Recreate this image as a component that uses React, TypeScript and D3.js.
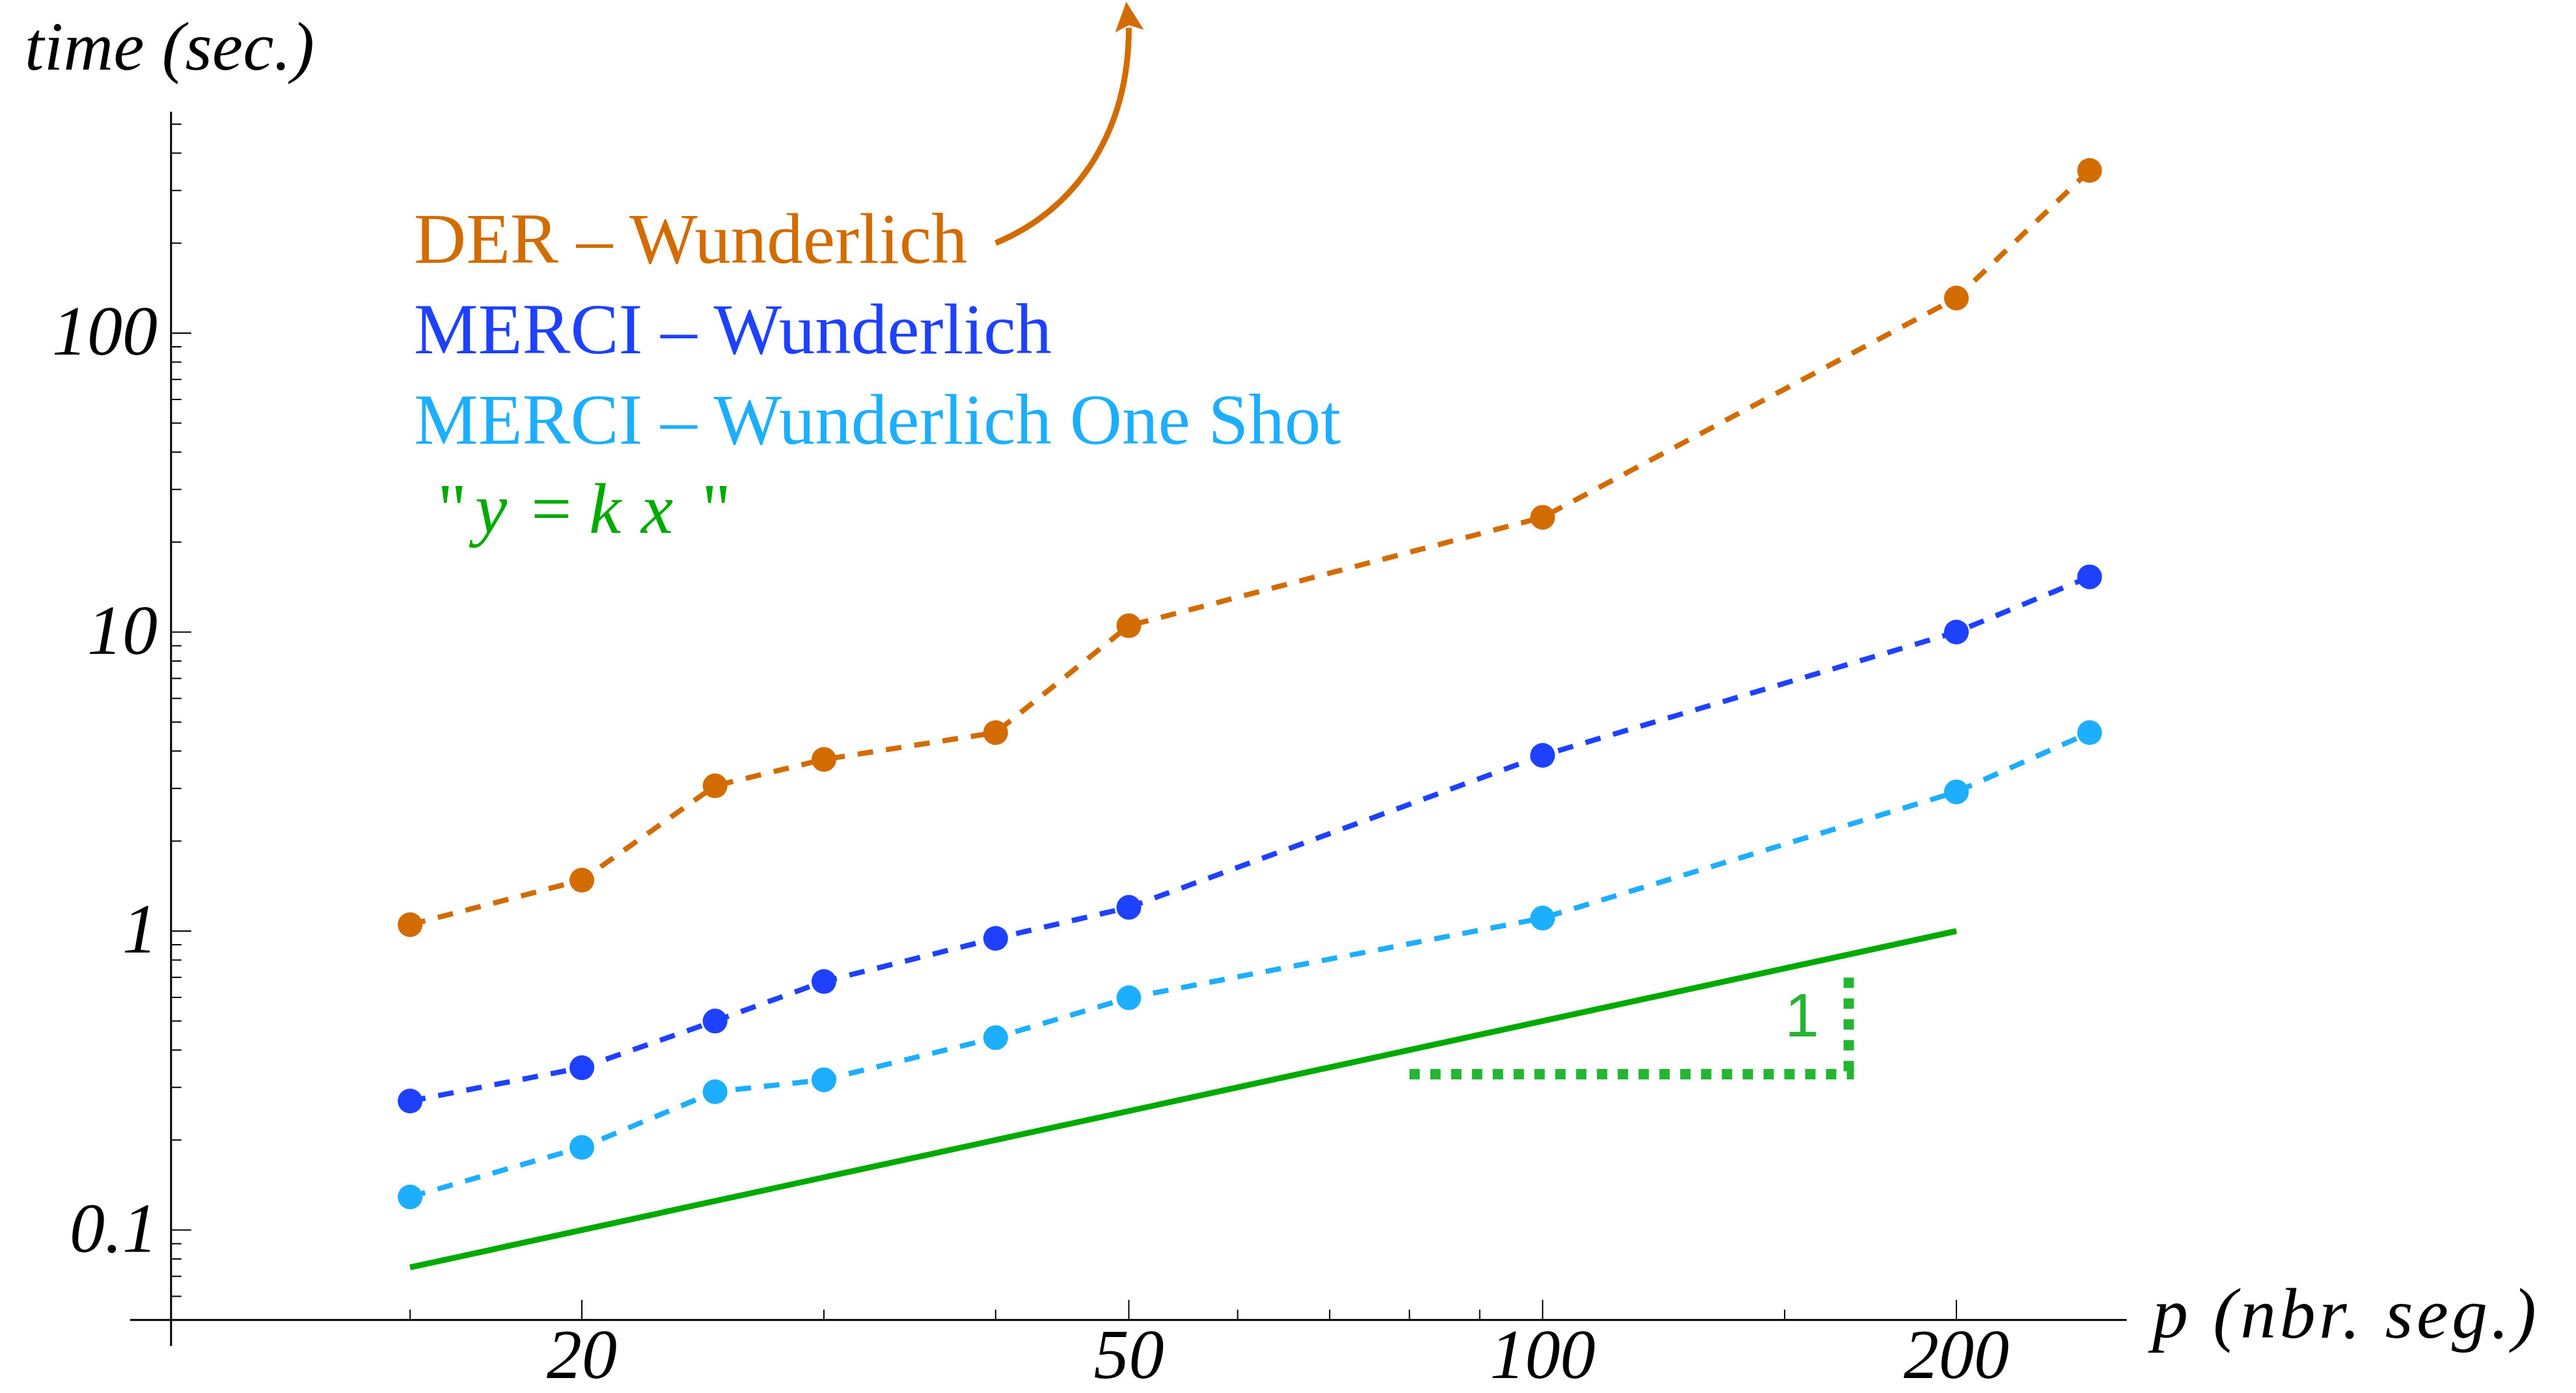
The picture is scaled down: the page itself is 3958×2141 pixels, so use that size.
import * as d3 from "d3";

// number of segments p
const pValues = [15, 20, 25, 30, 40, 50, 100, 200, 250];
// time (sec.)
const derTimes = [1.05, 1.48, 3.06, 3.75, 4.61, 10.5, 24.2, 131, 350];
const merciTimes = [0.27, 0.349, 0.5, 0.678, 0.945, 1.2, 3.87, 10, 15.3];
const oneShotTimes = [0.129, 0.189, 0.29, 0.318, 0.44, 0.598, 1.105, 2.92, 4.61];

const seriesNames = ["DER – Wunderlich", "MERCI – Wunderlich", "MERCI – Wunderlich One Shot"];
const seriesColors = ["#D26B00", "#1E40FF", "#1EAEFF"];

// reference line y = k x
const refK = 0.005;
const refP = [15, 200];

// slope triangle (data units)
const slopeP = [80, 167];
const slopeT = [0.332, 0.75];

// arrow pointing out of the plot (data units)
const arrowPts: [number, number][] = [[40, 200], [46, 262], [50, 480], [50, 1050]];

const xTickLabels = [20, 50, 100, 200];
const xMinorTicks = [15, 30, 40, 60, 70, 80, 90, 150];
const yTickLabels = [0.1, 1, 10, 100];

const serif = "'Liberation Serif', 'Times New Roman', serif";

export default function App() {
  const width = 3958;
  const height = 2141;

  const x = d3.scaleLog().domain([20, 200]).range([894, 3006]);
  const y = d3.scaleLog().domain([1, 100]).range([1431, 512]);

  const xOrigin = 10.05;
  const yOrigin = 0.05;
  const xMax = 266;
  const yMax = 550;

  const ax = x(xOrigin);
  const ay = y(yOrigin);

  const yMinor = y
    .copy()
    .domain([yOrigin, yMax])
    .ticks()
    .filter((v) => !yTickLabels.some((t) => Math.abs(t - v) / t < 1e-6) && v > yOrigin * 1.01);

  const line = d3
    .line<[number, number]>()
    .x((d) => x(d[0]))
    .y((d) => y(d[1]));

  const series = [derTimes, merciTimes, oneShotTimes].map((ts) =>
    pValues.map((p, i) => [p, ts[i]] as [number, number])
  );

  const refLine: [number, number][] = refP.map((p) => [p, refK * p]);

  // arrow curve
  const [a0, a1, a2, a3] = arrowPts.map(([p, t]) => [x(p), y(t)]);
  const arrowPath = `M${a0[0]},${a0[1]} C${a1[0]},${a1[1]} ${a2[0]},${a2[1]} ${a3[0]},${a3[1]}`;
  const tipX = a3[0] - 4;
  const tipY = a3[1] - 40;
  const head = `M${tipX},${tipY} L${tipX + 27},${tipY + 43} L${tipX + 4},${tipY + 36} L${tipX - 17},${tipY + 47} Z`;

  return (
    <div style={{ position: "absolute", left: 0, top: 0 }}>
      <svg width={width} height={height} style={{ display: "block", background: "#fff" }}>
        {/* axes */}
        <line x1={200} x2={x(xMax)} y1={ay} y2={ay} stroke="#000" strokeWidth={3} />
        <line x1={ax} x2={ax} y1={y(yMax)} y2={ay + 40} stroke="#000" strokeWidth={3} />

        {/* x ticks */}
        {xTickLabels.map((v) => (
          <g key={"xt" + v}>
            <line x1={x(v)} x2={x(v)} y1={ay} y2={ay - 31} stroke="#000" strokeWidth={2} />
            <text
              x={x(v)}
              y={2118}
              textAnchor="middle"
              fontFamily={serif}
              fontStyle="italic"
              fontSize={108}
            >
              {v}
            </text>
          </g>
        ))}
        {xMinorTicks.map((v) => (
          <line key={"xm" + v} x1={x(v)} x2={x(v)} y1={ay} y2={ay - 16} stroke="#000" strokeWidth={2} />
        ))}

        {/* y ticks */}
        {yTickLabels.map((v) => (
          <g key={"yt" + v}>
            <line x1={ax} x2={ax + 31} y1={y(v)} y2={y(v)} stroke="#000" strokeWidth={2} />
            <text
              x={242}
              y={y(v) + 33}
              textAnchor="end"
              fontFamily={serif}
              fontStyle="italic"
              fontSize={108}
            >
              {v}
            </text>
          </g>
        ))}
        {yMinor.map((v) => (
          <line key={"ym" + v} x1={ax} x2={ax + 16} y1={y(v)} y2={y(v)} stroke="#000" strokeWidth={2} />
        ))}

        {/* axis labels */}
        <text x={38} y={107} fontFamily={serif} fontStyle="italic" fontSize={106} textLength={445} lengthAdjust="spacing">
          time (sec.)
        </text>
        <text x={3307} y={2056} fontFamily={serif} fontStyle="italic" fontSize={110} textLength={590} lengthAdjust="spacing">
          p (nbr. seg.)
        </text>

        {/* reference line y = k x */}
        <path d={line(refLine) ?? ""} fill="none" stroke="#00AA00" strokeWidth={9} />

        {/* slope triangle */}
        <line
          x1={x(slopeP[0])}
          x2={x(slopeP[1]) + 8}
          y1={y(slopeT[0])}
          y2={y(slopeT[0])}
          stroke="#24B533"
          strokeWidth={16}
          strokeDasharray="16 16"
        />
        <line
          x1={x(slopeP[1])}
          x2={x(slopeP[1])}
          y1={y(slopeT[1])}
          y2={y(slopeT[0]) + 8}
          stroke="#24B533"
          strokeWidth={16}
          strokeDasharray="16 16"
          strokeDashoffset={-14}
        />
        <text
          x={x(slopeP[1]) - 72}
          y={y(slopeT[0]) - 58}
          textAnchor="middle"
          fontFamily="'Liberation Sans', Arial, sans-serif"
          fontSize={94}
          fill="#24B533"
        >
          1
        </text>

        {/* data series */}
        {series.map((pts, i) => (
          <g key={"s" + i}>
            <path
              d={line(pts) ?? ""}
              fill="none"
              stroke={seriesColors[i]}
              strokeWidth={8}
              strokeDasharray="24 20"
            />
            {pts.map((d, j) => (
              <circle key={j} cx={x(d[0])} cy={y(d[1])} r={19} fill={seriesColors[i]} />
            ))}
          </g>
        ))}

        {/* arrow */}
        <path d={arrowPath} fill="none" stroke={seriesColors[0]} strokeWidth={9} />
        <path d={head} fill={seriesColors[0]} />

        {/* legend */}
        {seriesNames.map((name, i) => (
          <text
            key={"lg" + i}
            x={636}
            y={404 + i * 139}
            fontFamily={serif}
            fontSize={111}
            fill={seriesColors[i]}
          >
            {name}
          </text>
        ))}
        <g fontFamily={serif} fontSize={111} fill="#00AA00">
          <text x={672} y={819}>"</text>
          <text x={730} y={819} fontStyle="italic">y</text>
          <text x={816} y={819}>=</text>
          <text x={905} y={819} fontStyle="italic">k</text>
          <text x={985} y={819} fontStyle="italic">x</text>
          <text x={1078} y={819}>"</text>
        </g>
      </svg>
    </div>
  );
}
